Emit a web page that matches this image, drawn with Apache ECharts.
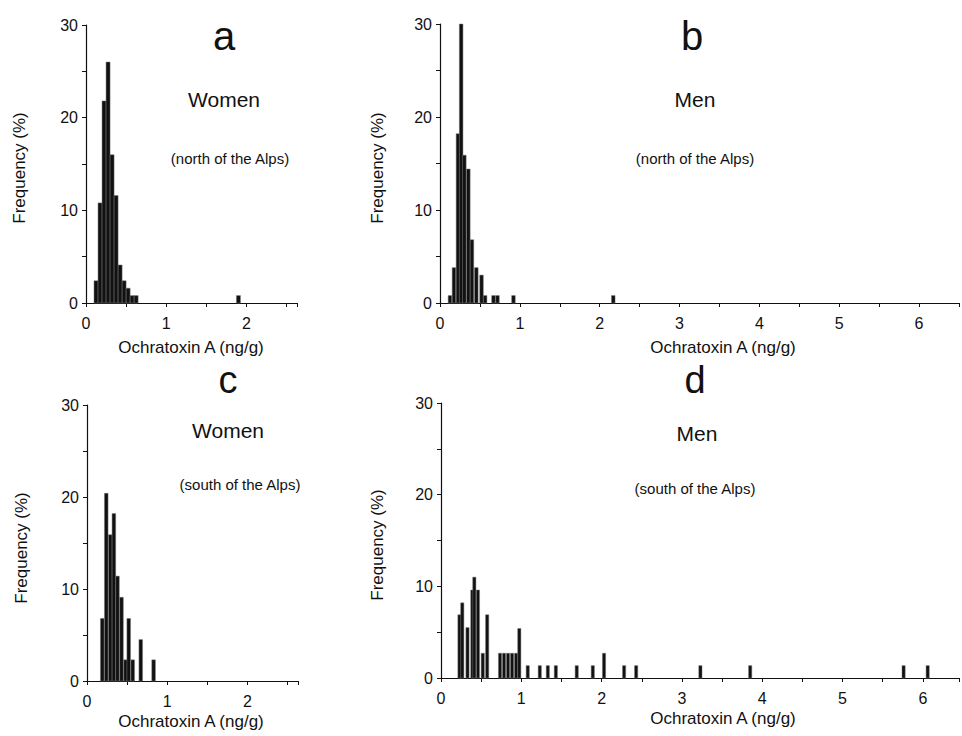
<!DOCTYPE html>
<html>
<head>
<meta charset="utf-8">
<script src="https://cdn.jsdelivr.net/npm/echarts@6/dist/echarts.min.js"></script>
<style>
  html, body { margin: 0; padding: 0; background: #fff; }
  #chart { width: 962px; height: 736px; }
</style>
</head>
<body>
<div id="chart"></div>
<script>
// bin centres (ng/g) and frequencies (%)
const womenNorthX = [0.125, 0.175, 0.225, 0.275, 0.325, 0.375, 0.425, 0.475, 0.525, 0.575, 0.625, 1.9];
const womenNorthY = [2.4, 10.8, 21.8, 26.0, 16.0, 11.6, 4.1, 2.4, 1.6, 0.8, 0.8, 0.8];

const menNorthX = [0.125, 0.175, 0.225, 0.265, 0.305, 0.355, 0.4, 0.455, 0.52, 0.565, 0.67, 0.72, 0.92, 2.17];
const menNorthY = [0.8, 3.8, 18.2, 30.0, 15.9, 14.4, 6.8, 3.8, 3.0, 0.8, 0.8, 0.8, 0.8, 0.8];

const womenSouthX = [0.19, 0.24, 0.29, 0.335, 0.38, 0.43, 0.48, 0.52, 0.57, 0.67, 0.83];
const womenSouthY = [6.8, 20.4, 15.9, 18.2, 11.4, 9.1, 2.3, 6.8, 2.3, 4.5, 2.3];

const menSouthX = [0.23, 0.265, 0.33, 0.39, 0.415, 0.46, 0.52, 0.575, 0.735, 0.785, 0.835, 0.885, 0.935, 0.975,
  1.08, 1.23, 1.33, 1.43, 1.69, 1.89, 2.03, 2.28, 2.43, 3.23, 3.85, 5.76, 6.06];
const menSouthY = [6.9, 8.2, 5.5, 9.6, 11.0, 9.6, 2.7, 6.9, 2.7, 2.7, 2.7, 2.7, 2.7, 5.4,
  1.35, 1.35, 1.35, 1.35, 1.35, 1.35, 2.7, 1.35, 1.35, 1.35, 1.35, 1.35, 1.35];

const yTicks = [0, 10, 20, 30];

const FONT = '"Liberation Sans", Arial, sans-serif';
const INK = '#111';

function pairs(xs, ys) {
  return xs.map((x, i) => [x, ys[i]]);
}

// histogram bars drawn as rects through the axis scales
function histItem(binWidth) {
  const half = binWidth / 2;
  return function (params, api) {
    const x = api.value(0), y = api.value(1);
    const p0 = api.coord([x - half, y]);
    const p1 = api.coord([x + half, 0]);
    return {
      type: 'rect',
      shape: { x: p0[0], y: p0[1], width: Math.max(p1[0] - p0[0], 2), height: p1[1] - p0[1] },
      style: { fill: INK, stroke: '#777', lineWidth: 0.5 }
    };
  };
}

function xAxisFor(i, max) {
  return {
    gridIndex: i, type: 'value', min: 0, max: max, interval: 0.5,
    axisLine: { lineStyle: { color: INK, width: 1.2 } },
    axisTick: { length: 4, lineStyle: { color: INK } },
    axisLabel: {
      margin: 12, fontSize: 16, color: INK, fontFamily: FONT,
      formatter: v => (Math.abs(v - Math.round(v)) < 1e-6 ? String(Math.round(v)) : '')
    },
    splitLine: { show: false }
  };
}

function yAxisFor(i) {
  return {
    gridIndex: i, type: 'value', min: 0, max: 30, interval: 5,
    axisLine: { show: true, lineStyle: { color: INK, width: 1.2 } },
    axisTick: { show: true, length: 4, lineStyle: { color: INK } },
    axisLabel: {
      margin: 8, fontSize: 16, color: INK, fontFamily: FONT,
      formatter: v => (yTicks.includes(v) ? String(v) : '')
    },
    splitLine: { show: false }
  };
}

function txt(s, x, y, size, rot) {
  return {
    type: 'text', x: x, y: y, rotation: rot || 0,
    style: { text: s, fill: INK, font: size + 'px ' + FONT, align: 'center', verticalAlign: 'middle' }
  };
}

const chart = echarts.init(document.getElementById('chart'), null, { renderer: 'svg' });

chart.setOption({
  animation: false,
  backgroundColor: '#fff',
  grid: [
    { left: 86, top: 25, width: 211, height: 278 },
    { left: 440, top: 24, width: 522, height: 279 },
    { left: 87, top: 405, width: 211, height: 276 },
    { left: 441, top: 403, width: 521, height: 275 }
  ],
  xAxis: [xAxisFor(0, 2.63), xAxisFor(1, 6.5), xAxisFor(2, 2.63), xAxisFor(3, 6.45)],
  yAxis: [yAxisFor(0), yAxisFor(1), yAxisFor(2), yAxisFor(3)],
  series: [
    { type: 'custom', xAxisIndex: 0, yAxisIndex: 0, renderItem: histItem(0.05), data: pairs(womenNorthX, womenNorthY) },
    { type: 'custom', xAxisIndex: 1, yAxisIndex: 1, renderItem: histItem(0.045), data: pairs(menNorthX, menNorthY) },
    { type: 'custom', xAxisIndex: 2, yAxisIndex: 2, renderItem: histItem(0.045), data: pairs(womenSouthX, womenSouthY) },
    { type: 'custom', xAxisIndex: 3, yAxisIndex: 3, renderItem: histItem(0.04), data: pairs(menSouthX, menSouthY) }
  ],
  graphic: [
    // panel a
    txt('a', 224, 36, 40),
    txt('Women', 224, 99, 21),
    txt('(north of the Alps)', 230, 158, 15),
    txt('Ochratoxin A (ng/g)', 191, 347, 17),
    txt('Frequency (%)', 19, 168, 17, Math.PI / 2),
    // panel b
    txt('b', 692, 36, 40),
    txt('Men', 695, 99, 21),
    txt('(north of the Alps)', 695, 158, 15),
    txt('Ochratoxin A (ng/g)', 723, 347, 17),
    txt('Frequency (%)', 377, 168, 17, Math.PI / 2),
    // panel c
    txt('c', 228, 380, 38),
    txt('Women', 228, 430, 21),
    txt('(south of the Alps)', 240, 484, 15),
    txt('Ochratoxin A (ng/g)', 191, 721, 17),
    txt('Frequency (%)', 21, 548, 17, Math.PI / 2),
    // panel d
    txt('d', 695, 380, 38),
    txt('Men', 697, 433, 21),
    txt('(south of the Alps)', 695, 488, 15),
    txt('Ochratoxin A (ng/g)', 723, 718, 17),
    txt('Frequency (%)', 377, 545, 17, Math.PI / 2)
  ]
});
</script>
</body>
</html>
